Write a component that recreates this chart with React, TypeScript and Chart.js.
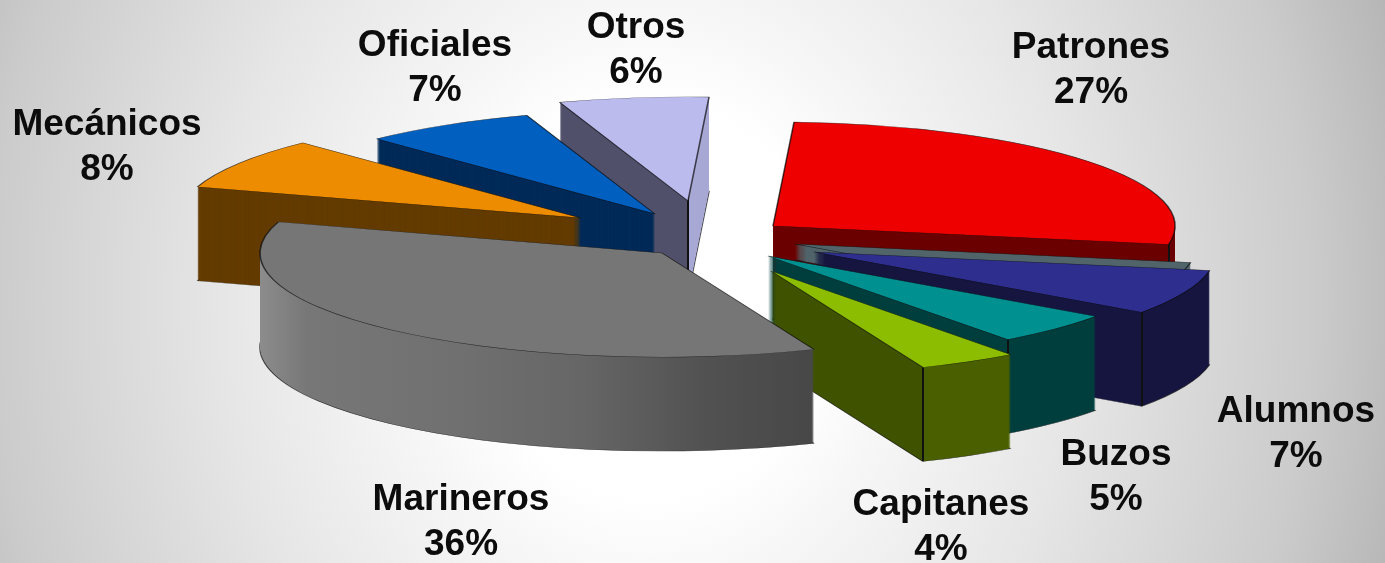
import React, { useEffect, useRef } from "react";
import { Chart, registerables } from "chart.js";

Chart.register(...registerables);

// ---- data ----
const categories = ["Patrones", "Alumnos", "Buzos", "Capitanes", "Marineros", "Mecánicos", "Oficiales", "Otros"];
const shares = [27, 7, 5, 4, 36, 8, 7, 6];

// ---- styles ----
const topColors = ["#ee0000", "#2e2e8e", "#009090", "#8cbd00", "#767676", "#ee8c00", "#005fbf", "#bbbbee"];
const cutWallColors = ["#6b0000", "#15153f", "#003e3e", "#3e5200", "#767676", "#633b00", "#002a58", "#50506a"];
const rimWallColors = ["#6b0000", "#15153f", "#003e3e", "#4a6000", "#767676", "#633b00", "#002a58", "#a8a8d4"];
const seamKinds = ["end", "end", "end", "end", "", "", "", "apex"];
const marinerosWallStops: [number, string][] = [[0, "#8c8c8c"], [0.06, "#777777"], [0.25, "#707070"], [0.4, "#666666"], [0.55, "#525252"], [0.69, "#474747"], [1, "#474747"]];

// ---- 3D layout ----
const pieRadius = 402;
const tilt = 0.259;
const wallDepth = 94;
const firstSliceAngle = 3;
const explodeX = [80.5, 121.5, 75.5, 78.5, -30.5, -111.5, -37.5, -4.5];
const explodeY = [-55.5, -29.5, -25.5, -10.5, -28.5, -63.5, -67.5, -80.5];
const paintOrder = [7, 6, 5, 0, -1, 1, 2, 3, 4];
const plate = { slice: 1, dx: -19, dy: -8, depth: 16, color: "#50646a" };

// ---- labels ----
const labelFont = 'bold 37px "Liberation Sans", Arial, sans-serif';
const labelX = [1091, 1296, 1116, 941, 461, 107, 435, 636];
const labelY = [58, 422, 465, 515, 510, 135, 56, 38];
const labelLeading = 45;

function drawSlice(ctx: CanvasRenderingContext2D, arc: any, dx: number, dy: number, depth: number, wall: (x0: number, x1: number) => any, top: string) {
  const base = arc.options;
  const paint = (d: number, fill: any, border: string | null) => {
    arc.options = { ...base, backgroundColor: fill, borderColor: border || "transparent", borderWidth: border ? 1.6 : 0, offset: 0 };
    ctx.save();
    ctx.translate(arc.x + dx, arc.y + dy + d);
    ctx.scale(1, tilt);
    ctx.translate(-arc.x, -arc.y);
    arc.draw(ctx);
    ctx.restore();
  };
  const wallFill = wall(arc.x - arc.outerRadius, arc.x + arc.outerRadius);
  paint(depth, wallFill, "rgba(10,10,10,0.7)");
  for (let d = depth - 1; d >= 1; d--) paint(d, wallFill, null);
  paint(0, top, "rgba(10,10,10,0.7)");
  arc.options = base;
}

const pie3d = {
  id: "pie3d",
  beforeDatasetsDraw(chart: any) {
    const ctx: CanvasRenderingContext2D = chart.ctx;
    const arcs = chart.getDatasetMeta(0).data;
    for (const i of paintOrder) {
      if (i < 0) {
        const solid = () => plate.color;
        drawSlice(ctx, arcs[plate.slice], explodeX[plate.slice] + plate.dx, explodeY[plate.slice] + plate.dy, plate.depth, solid, plate.color);
        continue;
      }
      const arc = arcs[i];
      const wall = (x0: number, x1: number) => {
        const g = ctx.createLinearGradient(x0, 0, x1, 0);
        if (i === 4) {
          marinerosWallStops.forEach(([f, c]) => g.addColorStop(f, c));
          return g;
        }
        const kind = seamKinds[i];
        if (!kind) return cutWallColors[i];
        const f = kind === "apex" ? 0.5 : (Math.cos(arc.endAngle) + 1) / 2;
        g.addColorStop(0, cutWallColors[i]);
        g.addColorStop(f - 0.0012, cutWallColors[i]);
        g.addColorStop(f - 0.0011, "#111");
        g.addColorStop(f + 0.0011, "#111");
        g.addColorStop(f + 0.0012, rimWallColors[i]);
        g.addColorStop(1, rimWallColors[i]);
        return g;
      };
      drawSlice(ctx, arc, explodeX[i], explodeY[i], wallDepth, wall, topColors[i]);
    }
    return false;
  },
  afterDraw(chart: any) {
    const ctx: CanvasRenderingContext2D = chart.ctx;
    ctx.save();
    ctx.font = labelFont;
    ctx.fillStyle = "#0c0c0c";
    ctx.textAlign = "center";
    ctx.textBaseline = "alphabetic";
    categories.forEach((name, i) => {
      ctx.fillText(name, labelX[i], labelY[i]);
      ctx.fillText(`${shares[i]}%`, labelX[i], labelY[i] + labelLeading);
    });
    ctx.restore();
  },
};

export default function App() {
  const ref = useRef<HTMLCanvasElement>(null);
  useEffect(() => {
    const chart = new Chart(ref.current as HTMLCanvasElement, {
      type: "pie",
      data: { labels: categories, datasets: [{ data: shares, backgroundColor: topColors, borderWidth: 0 }] },
      options: {
        responsive: false,
        animation: false,
        radius: pieRadius,
        rotation: firstSliceAngle,
        events: [],
        plugins: { legend: { display: false }, tooltip: { enabled: false } },
      } as any,
      plugins: [pie3d],
    });
    return () => chart.destroy();
  }, []);
  return (
    <div
      style={{
        position: "fixed",
        left: 0,
        top: 0,
        width: 1385,
        height: 563,
        background: "radial-gradient(ellipse 780px 900px at 650px 300px, #ffffff 0%, #ffffff 22%, #f6f6f6 33%, #e6e6e6 55%, #cbcbcb 85%, #b6b6b6 100%)",
      }}
    >
      <canvas ref={ref} width={1385} height={563} style={{ display: "block", filter: "blur(0.5px)" }} />
    </div>
  );
}
